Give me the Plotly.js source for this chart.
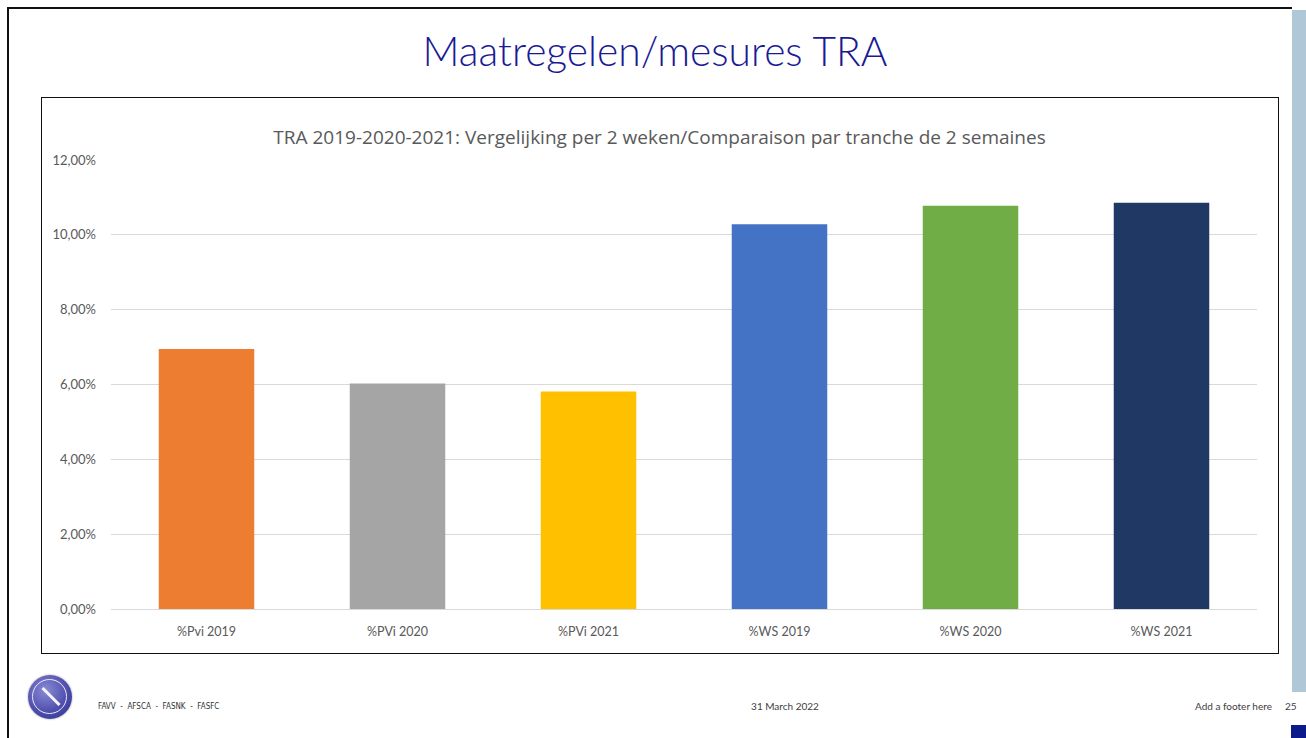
<!DOCTYPE html>
<html>
<head>
<meta charset="utf-8">
<script src="https://cdn.plot.ly/plotly-3.0.1.min.js"></script>
<style>
  html, body { margin:0; padding:0; background:#fff; width:1306px; height:738px; overflow:hidden; font-family: Lato, "Open Sans", sans-serif; }
  #chart { position:absolute; left:0; top:0; width:1306px; height:738px; }
  .ov { position:absolute; pointer-events:none; }
</style>
</head>
<body>
<div id="chart"></div>

<!-- slide decoration -->
<div class="ov" style="left:7px; top:7px; width:1285px; height:2px; background:#111;"></div>
<div class="ov" style="left:7px; top:7px; width:2px; height:731px; background:#111;"></div>
<div class="ov" style="left:1292px; top:10px; width:14px; height:682px; background:#b0c7d8;"></div>
<div class="ov" style="left:1291px; top:725px; width:15px; height:13px; background:#0d1a8a;"></div>
<div class="ov" style="left:41px; top:97px; width:1236px; height:555px; border:1.5px solid #111;"></div>
<div class="ov" style="left:0; top:26px; width:1310px; text-align:center; font-family:Lato, sans-serif; font-weight:300; font-size:40.7px; color:#1a1a94; line-height:50px;">Maatregelen/mesures TRA</div>

<!-- footer -->
<div class="ov" style="left:28px; top:675px; width:44px; height:44px; border-radius:50%; background:radial-gradient(circle at 40% 35%, #8a8ad6, #4a4aa8 60%, #2e2e8a); box-shadow:0 0 2px #888;"></div>
<div class="ov" style="left:32px; top:679px; width:33px; height:33px; border-radius:50%; border:1.5px solid #e8e8ff;"></div>
<div class="ov" style="left:39px; top:695px; width:24px; height:3px; background:#f4f4ff; transform:rotate(45deg); transform-origin:center;"></div>
<div class="ov" style="left:98px; top:702px; font-family:'Liberation Sans Narrow', 'DejaVu Sans Condensed', sans-serif; font-size:8px; color:#333; white-space:pre;">FAVV  -  AFSCA  -  FASNK  -  FASFC</div>
<div class="ov" style="left:700px; top:700px; width:170px; text-align:center; font-family:Lato, sans-serif; font-size:10px; color:#404040;">31 March 2022</div>
<div class="ov" style="left:1195px; top:700px; font-family:Lato, sans-serif; font-size:10px; color:#404040;">Add a footer here</div>
<div class="ov" style="left:1285px; top:700px; font-family:Lato, sans-serif; font-size:10px; color:#404040;">25</div>

<script>
const categories = ["%Pvi 2019", "%PVi 2020", "%PVi 2021", "%WS 2019", "%WS 2020", "%WS 2021"];
const values = [0.0695, 0.0603, 0.0581, 0.1028, 0.1078, 0.1086];
const barColors = ["#ed7d31", "#a5a5a5", "#ffc000", "#4472c4", "#70ad47", "#203864"];
const chartTitle = "TRA 2019-2020-2021: Vergelijking per 2 weken/Comparaison par tranche de 2 semaines";

const trace = {
  type: "bar",
  x: categories,
  y: values,
  marker: { color: barColors },
  width: 0.5,
  hoverinfo: "x+y"
};

const layout = {
  width: 1306,
  height: 738,
  margin: { l: 111, r: 49, t: 160, b: 129, pad: 0 },
  paper_bgcolor: "rgba(0,0,0,0)",
  plot_bgcolor: "rgba(0,0,0,0)",
  separators: ", ",
  showlegend: false,
  title: {
    text: chartTitle,
    x: 0.505, xanchor: "center",
    y: 1 - 137/738, yanchor: "middle",
    font: { family: "'Open Sans', sans-serif", size: 19, color: "#595959" }
  },
  xaxis: {
    type: "category",
    showgrid: false,
    showline: false,
    ticks: "",
    tickfont: { family: "Lato, sans-serif", size: 12.5, color: "#595959" },
    ticklabelstandoff: 13
  },
  yaxis: {
    range: [0, 0.12],
    tickvals: [0, 0.02, 0.04, 0.06, 0.08, 0.10, 0.12],
    tickformat: ".2%",
    showgrid: true,
    gridcolor: "#d9d9d9",
    gridwidth: 1,
    zeroline: true,
    zerolinecolor: "#d9d9d9",
    zerolinewidth: 1,
    showline: false,
    ticks: "",
    ticklabelstandoff: 14,
    tickfont: { family: "Lato, sans-serif", size: 13, color: "#595959" }
  }
};

Plotly.newPlot("chart", [trace], layout, { displayModeBar: false, staticPlot: false });
</script>
</body>
</html>
